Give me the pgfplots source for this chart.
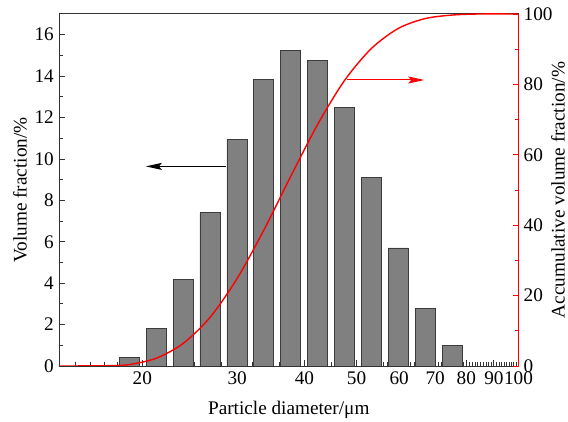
\documentclass[border=0pt]{standalone}
\usepackage{pgfplots}
\pgfplotsset{compat=1.18}
\usepackage{fontspec}
\setmainfont{Liberation Serif}
\usetikzlibrary{arrows.meta}
\definecolor{barfill}{RGB}{128,128,128}
\definecolor{baredge}{RGB}{60,60,60}
\definecolor{axgray}{RGB}{50,50,50}
\begin{document}
\begin{tikzpicture}
\begin{axis}[
  scale only axis, width=459.5bp, height=352bp,
  xmode=log, xmin=14, xmax=100,
  major tick length=6bp, minor tick length=3.5bp,
  /pgf/number format/assume math mode=true,
  tick label style={font=\fontsize{19.3}{21}\selectfont},
  label style={font=\fontsize{19.3}{21}\selectfont},
  ymin=0, ymax=17,
  ytick={0,2,4,6,8,10,12,14,16}, minor ytick={1,3,5,7,9,11,13,15},
  xtick={20,30,40,50,60,70,80,90,100},
  xticklabels={20,30,40,50,60,70,80,90,100},
  minor xtick={15,16,17,18,19,21,22,23,24,25,26,27,28,29,31,32,33,34,35,36,37,38,39,41,42,43,44,45,46,47,48,49,51,52,53,54,55,56,57,58,59,61,62,63,64,65,66,67,68,69,71,72,73,74,75,76,77,78,79,81,82,83,84,85,86,87,88,89,91,92,93,94,95,96,97,98,99},
  xtick pos=bottom, ytick pos=left,
  tick align=inside,
  axis line style={axgray, line width=1bp},
  tick style={axgray, line width=0.8bp},
  xticklabel style={inner sep=0pt, yshift=-6bp},
  yticklabel style={inner sep=0pt, xshift=-5bp},
  xlabel={Particle diameter/μm},
  xlabel style={at={(rel axis cs:0.5,0)}, yshift=-44bp, anchor=center, inner sep=0pt},
  ylabel={Volume fraction/\%},
  ylabel style={at={(rel axis cs:0,0.5)}, yshift=39bp, anchor=center, inner sep=0pt},
]
\addplot[ybar, bar width=20bp, fill=barfill, draw=baredge, line width=0.7bp] coordinates {
(18.91,0.4) (21.22,1.8) (23.81,4.2) (26.71,7.4) (29.97,10.95) (33.63,13.85) (37.73,15.25)
(42.33,14.75) (47.49,12.5) (53.29,9.1) (59.79,5.7) (67.08,2.8) (75.27,1.0)
};
\draw[black, line width=1bp, -{Stealth[length=16bp,width=7bp,inset=3bp]}] (axis cs:28.6,9.64) -- (axis cs:20.3,9.64);
\end{axis}
\begin{axis}[
  scale only axis, width=459.5bp, height=352bp,
  xmode=log, xmin=14, xmax=100,
  major tick length=6bp, minor tick length=3.5bp,
  /pgf/number format/assume math mode=true,
  tick label style={font=\fontsize{19.3}{21}\selectfont},
  label style={font=\fontsize{19.3}{21}\selectfont},
  ymin=0, ymax=100,
  axis y line*=right, axis x line=none,
  tick align=inside,
  ytick={0,20,40,60,80,100}, minor ytick={10,30,50,70,90},
  y axis line style={red, line width=1bp},
  ytick style={red, line width=0.8bp},
  yticklabel style={inner sep=0pt, xshift=5bp},
  ylabel={Accumulative volume fraction/\%},
  ylabel style={at={(rel axis cs:1,0.5)}, yshift=-39.5bp, anchor=center, inner sep=0pt},
]
\addplot[red, line width=1.4bp, smooth, no marks] coordinates {
(14,0) (16,0.03) (17.5,0.12) (18.91,0.4) (21.22,2.2) (23.81,6.4) (26.71,13.8) (29.97,24.75)
(33.63,38.6) (37.73,53.85) (42.33,68.6) (47.49,81.1) (53.29,90.2) (59.79,95.9) (67.08,98.7)
(75.27,99.7) (84.5,100) (100,100)
};
\draw[red, line width=1bp, -{Stealth[length=16bp,width=7bp,inset=3bp]}] (axis cs:48.0,81.25) -- (axis cs:66.8,81.25);
\end{axis}
\pgfresetboundingbox
\path (-59bp,-56bp) rectangle (509bp,366bp);
\end{tikzpicture}
\end{document}
